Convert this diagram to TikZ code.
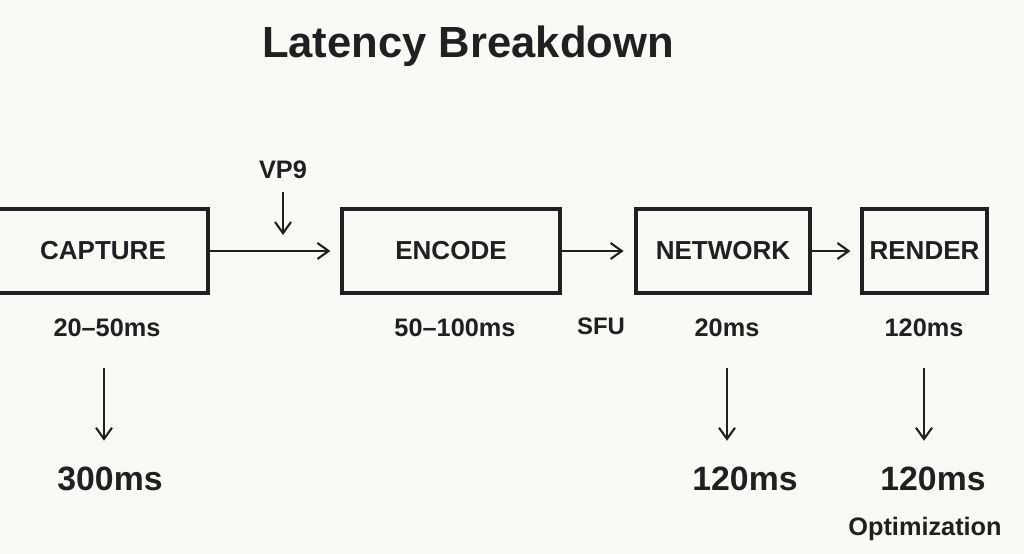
\documentclass[tikz,border=0pt]{standalone}
\usepackage{fontspec}
\setmainfont{Liberation Sans}
\usepackage{tikz}
\usetikzlibrary{arrows.meta,positioning}
\definecolor{inkdark}{RGB}{32,32,32}
\definecolor{paper}{RGB}{250,249,245}

\begin{document}
\begin{tikzpicture}[x=0.025cm,y=-0.025cm,
    stage/.style={draw=inkdark,line width=2.2pt,minimum height=2.1cm,inner sep=0pt,
                  font=\fontsize{18.5}{20}\selectfont\bfseries,text=inkdark},
    lbl/.style={inner sep=0pt,font=\fontsize{18}{20}\selectfont\bfseries,text=inkdark},
    total/.style={inner sep=0pt,font=\fontsize{24}{28}\selectfont\bfseries,text=inkdark},
    flow/.style={draw=inkdark,line width=1.5pt,-{Straight Barb[length=2.8mm,width=4mm]}}]
  % page
  \fill[paper] (0,0) rectangle (1024,553);
  \clip (0,0) rectangle (1024,553);
  % title
  \node[lbl,font=\fontsize{31}{36}\selectfont\bfseries,anchor=base] (title) at (468,57)
       {Latency Breakdown};
  % stages
  \node[stage,minimum width=5.25cm] (capture) at (103,251) {CAPTURE};
  \node[stage,minimum width=5.45cm] (encode) at (451,251) {ENCODE};
  \node[stage,minimum width=4.35cm] (network) at (723,251) {NETWORK};
  \node[stage,minimum width=3.125cm] (render) at (924.5,251) {RENDER};
  \draw[flow,shorten >=0.25cm] (capture.east) -- (encode.west);
  \draw[flow,shorten >=0.27cm] (encode.east) -- (network.west);
  \draw[flow,shorten >=0.25cm] (network.east) -- (render.west);
  % codec
  \node[lbl] (vp9) at (283,170) {VP9};
  \draw[flow,shorten <=0.32cm,shorten >=0.4cm] (vp9.south) -- (vp9.south |- capture.east);
  % per stage
  \node[lbl] (capms) at (107,328) {20--50ms};
  \node[lbl] (encms) at (455,328) {50--100ms};
  \node[lbl,font=\fontsize{17}{20}\selectfont\bfseries] (sfu) at (601,326) {SFU};
  \node[lbl] (netms) at (727,328) {20ms};
  \node[lbl] (renms) at (924,328) {120ms};
  % totals
  \node[total] (captot) at (110,479) {300ms};
  \node[total] (nettot) at (745,479) {120ms};
  \node[total] (rentot) at (933,479) {120ms};
  \node[lbl,anchor=base] (opt) at (925,535) {Optimization};
  \draw[flow,shorten <=0.78cm,shorten >=0.65cm] ([xshift=-0.075cm]capms.south)
       -- ([xshift=-0.075cm]capms.south |- captot.north);
  \draw[flow,shorten <=0.78cm,shorten >=0.65cm] (netms.south) -- (netms.south |- nettot.north);
  \draw[flow,shorten <=0.78cm,shorten >=0.65cm] (renms.south) -- (renms.south |- rentot.north);
\end{tikzpicture}
\end{document}
